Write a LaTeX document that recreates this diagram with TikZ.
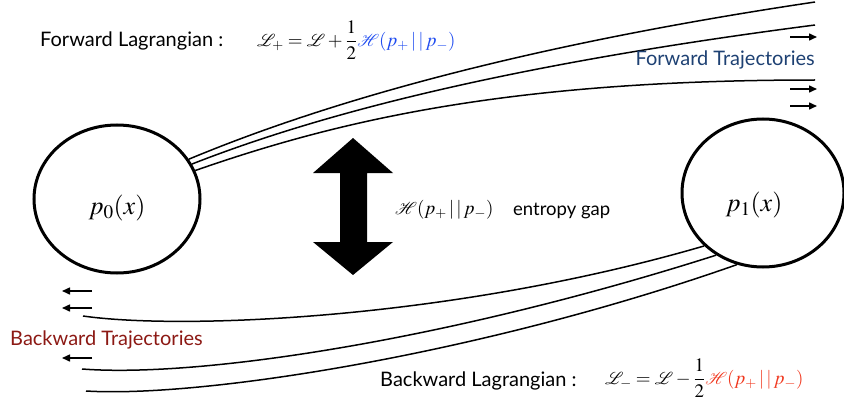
\documentclass[tikz,border=0pt]{standalone}
\usepackage{mathptmx}
\usepackage{mathrsfs}
\usepackage[no-math]{fontspec}
\setmainfont{Lato}
\usetikzlibrary{shapes.geometric,arrows.meta}
\definecolor{fwdblue}{RGB}{30,75,240}
\definecolor{bwdred}{RGB}{240,55,30}
\definecolor{fwdtraj}{RGB}{30,65,115}
\definecolor{bwdtraj}{RGB}{140,25,20}
\tikzset{
  distnode/.style={ellipse,draw,line width=3pt,minimum width=166pt,minimum height=148pt,inner sep=0pt},
  disttext/.style={inner sep=0pt,font=\fontsize{26}{30}\selectfont},
  traj/.style={line width=1.5pt},
  dirarrow/.style={line width=1.5pt,-{Triangle[length=8pt,width=7pt]}},
  lbl/.style={inner sep=0pt,font=\fontsize{20}{24}\selectfont},
  mathlbl/.style={inner sep=0pt,font=\fontsize{19}{23}\selectfont},
}
\begin{document}
\begin{tikzpicture}[x=1pt,y=-1pt]
\useasboundingbox (0,0) rectangle (844,404);
% distributions
\node[distnode] (p0) at (117,199) {};
\node[distnode,minimum width=162pt] (p1) at (763,193) {};
\node[disttext] (p0t) at (117,208) {$p_0(x)$};
\node[disttext] (p1t) at (754,205) {$p_1(x)$};
% forward trajectories
\coordinate (f1) at (815,2);
\coordinate (f2) at (815,25);
\coordinate (f3) at (815,80);
\draw[traj] (p0.29) .. controls (350,92) and (560,40) .. (f1);
\draw[traj] (p0.25) .. controls (350,102) and (560,58) .. (f2);
\draw[traj] (p0.20) .. controls (340,120) and (510,80) .. (f3);
% backward trajectories
\coordinate (b1) at (83,316);
\coordinate (b2) at (82,369);
\coordinate (b3) at (86,391);
\draw[traj] (p1.222) .. controls (450,320) and (180,330) .. (b1);
\draw[traj] (p1.233) .. controls (450,340) and (200,378) .. (b2);
\draw[traj] (p1.250) .. controls (480,355) and (200,398) .. (b3);
% direction arrows
\coordinate (fa1s) at (790,37); \coordinate (fa1e) at (817,37);
\coordinate (fa2s) at (790,89); \coordinate (fa2e) at (817,89);
\coordinate (fa3s) at (790,106); \coordinate (fa3e) at (817,106);
\draw[dirarrow] (fa1s) -- (fa1e);
\draw[dirarrow] (fa2s) -- (fa2e);
\draw[dirarrow] (fa3s) -- (fa3e);
\coordinate (ba1s) at (92,291); \coordinate (ba1e) at (62,291);
\coordinate (ba2s) at (92,308); \coordinate (ba2e) at (62,308);
\coordinate (ba3s) at (92,358); \coordinate (ba3e) at (62,358);
\draw[dirarrow] (ba1s) -- (ba1e);
\draw[dirarrow] (ba2s) -- (ba2e);
\draw[dirarrow] (ba3s) -- (ba3e);
% double arrow
\fill (353,138) -- (393,173) -- (367,173) -- (367,242) -- (393,242) -- (353,275)
  -- (313,242) -- (340,242) -- (340,173) -- (313,173) -- cycle;
% labels
\node[lbl,anchor=west] (fl) at (40,41) {Forward Lagrangian :};
\node[mathlbl,anchor=west] (fm) at (257,40) {$\displaystyle \mathscr{L}_+=\mathscr{L}+\frac{1}{2}{\color{fwdblue}\mathscr{H}(p_+\,|\,|\,p_-)}$};
\node[lbl,anchor=west] (bl) at (380,381) {Backward Lagrangian :};
\node[mathlbl,anchor=west] (bm) at (605,378) {$\displaystyle \mathscr{L}_-=\mathscr{L}-\frac{1}{2}{\color{bwdred}\mathscr{H}(p_+\,|\,|\,p_-)}$};
\node[lbl,anchor=east,text=fwdtraj] (ft) at (815,60) {Forward Trajectories};
\node[lbl,anchor=west,text=bwdtraj] (bt) at (10,340) {Backward Trajectories};
\node[mathlbl,anchor=west] (gm) at (395,210) {$\mathscr{H}(p_+\,|\,|\,p_-)$};
\node[lbl,anchor=west,font=\fontsize{18.5}{22}\selectfont] (gt) at (513,211) {entropy gap};
\end{tikzpicture}
\end{document}
